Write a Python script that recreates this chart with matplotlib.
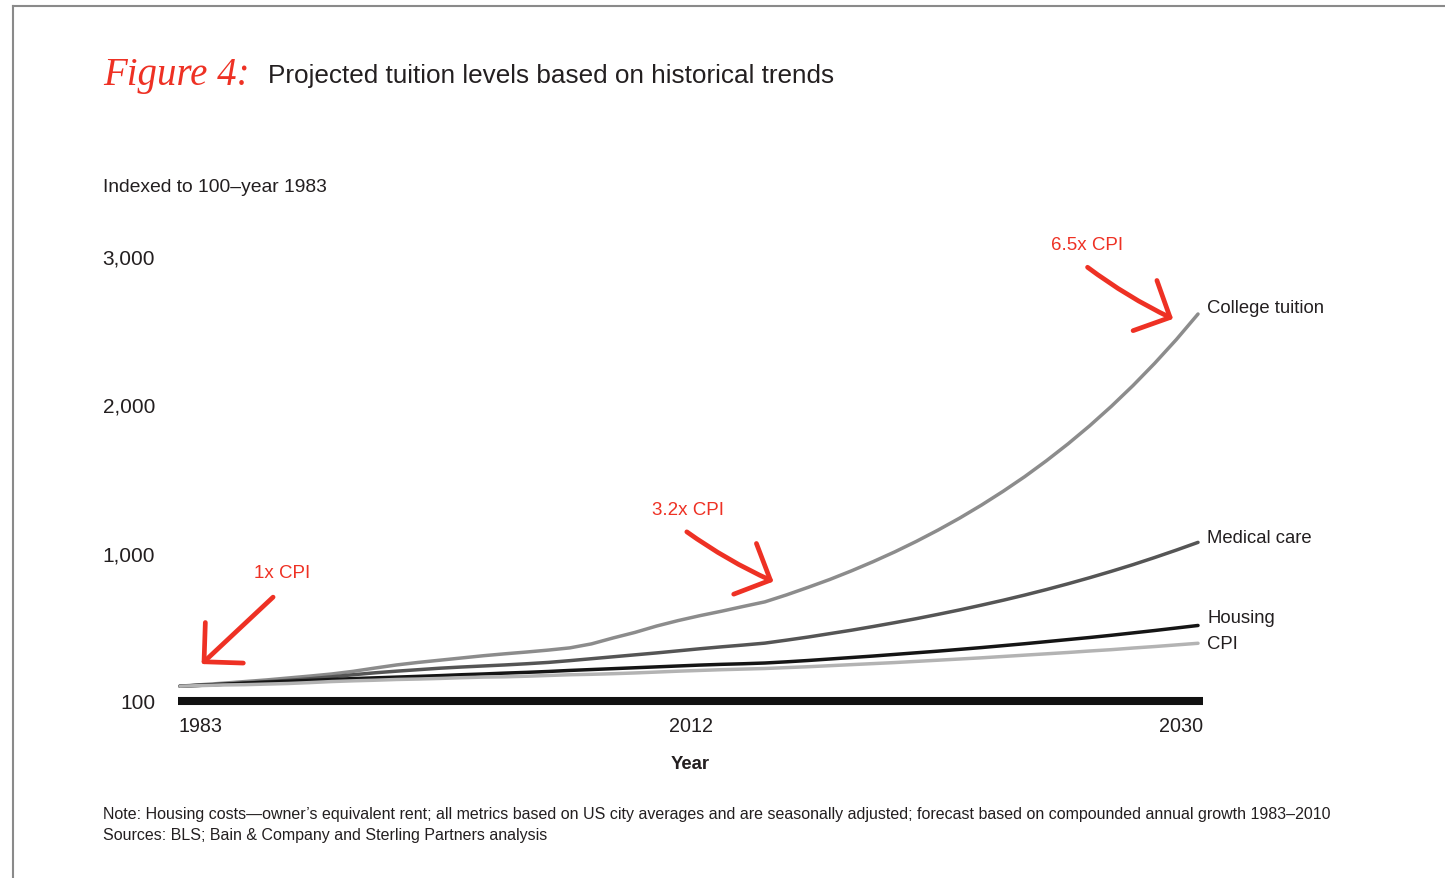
import matplotlib.pyplot as plt
from matplotlib.lines import Line2D
from matplotlib.patches import FancyArrowPatch

plt.rcParams['font.family'] = ['Liberation Sans', 'DejaVu Sans']

years = list(range(1983, 2031))

# index, 1983 = 100; 1983-2010 actual, 2011-2030 projected
tuition = [100, 110, 120, 131, 142, 155, 168, 182, 200, 222,
           243, 260, 275, 290, 305, 318, 330, 343, 358, 385,
           425, 462, 505, 542, 575, 605, 637, 668,
           715, 766, 819, 877, 939, 1005, 1076, 1152, 1233, 1320,
           1413, 1512, 1619, 1733, 1855, 1986, 2126, 2276, 2436, 2608]
medical = [100, 106, 113, 122, 130, 139, 150, 163, 177, 190,
           201, 211, 221, 229, 236, 243, 251, 260, 272, 285,
           298, 311, 324, 338, 352, 365, 377, 390,
           410, 431, 454, 477, 502, 528, 555, 584, 614, 646,
           679, 714, 751, 790, 831, 874, 919, 967, 1017, 1069]
housing = [100, 106, 113, 120, 127, 133, 139, 145, 151, 156,
           161, 166, 171, 177, 182, 188, 193, 199, 206, 212,
           218, 224, 230, 236, 242, 247, 251, 256,
           264, 273, 283, 293, 303, 314, 325, 336, 348, 360,
           373, 386, 400, 414, 428, 443, 459, 475, 492, 509]
cpi = [100, 104, 108, 110, 114, 118, 124, 131, 136, 140,
       145, 148, 152, 157, 161, 163, 167, 172, 177, 180,
       184, 189, 195, 201, 206, 211, 215, 219,
       225, 231, 238, 245, 252, 259, 267, 275, 283, 291,
       300, 309, 318, 327, 337, 346, 357, 367, 378, 389]

series_names = ['College tuition', 'Medical care', 'Housing', 'CPI']
series_colors = ['#8c8c8c', '#555555', '#151515', '#b3b3b3']
label_dy = [5, 3.5, 5.5, 0]  # points, vertical nudge of end labels

yticks = [0, 1000, 2000, 3000]
ytick_labels = ['100', '1,000', '2,000', '3,000']
xtick_labels = ['1983', '2012', '2030']

callouts = ['1x CPI', '3.2x CPI', '6.5x CPI']
callout_text_pos = [(1986.4, 869), (2004.8, 1293), (2023.2, 3077)]
callout_arrows = [((1987.3, 700), (1984.0, 249), 0.0),
                  ((2006.4, 1140), (2010.4, 805), 0.05),
                  ((2024.9, 2923), (2028.85, 2575), 0.05)]

RED = '#ee3124'
TXT = '#231f20'

fig = plt.figure(figsize=(14.45, 8.79), dpi=100)
ax = fig.add_axes([178 / 1445, 1 - 702 / 879, 1025 / 1445, (702 - 242) / 879])
ax.set_xlim(1982.91, 2030.23)
ax.set_ylim(0, 3100)
for s in ax.spines.values():
    s.set_visible(False)

data = [tuition, medical, housing, cpi]
for vals, name, col, dy in zip(data, series_names, series_colors, label_dy):
    ax.plot(years, vals, color=col, lw=2.5, solid_capstyle='round', clip_on=False)
    ax.annotate(name, xy=(years[-1], vals[-1]), xytext=(6.5, dy),
                textcoords='offset points', ha='left', va='center',
                fontsize=13.3, color=TXT)

ax.axhline(0, color='#111111', lw=5.8, clip_on=False, zorder=5,
           solid_capstyle='butt')

ax.set_yticks(yticks)
ax.set_yticklabels(ytick_labels, fontsize=15, color=TXT)
ax.set_xticks([])
ax.tick_params(axis='y', length=0, pad=16.5)

for xa, lab, ha in zip([0, 0.5, 1], xtick_labels, ['left', 'center', 'right']):
    ax.text(xa, -0.033, lab, transform=ax.transAxes, ha=ha, va='top',
            fontsize=14.2, color=TXT)
ax.text(0.5, -0.118, 'Year', transform=ax.transAxes, ha='center', va='top',
        fontsize=13.3, fontweight='bold', color=TXT)

# red hand-drawn style callouts
for txt, pos in zip(callouts, callout_text_pos):
    ax.text(pos[0], pos[1], txt, ha='left', va='center', fontsize=13.5, color=RED)
for start, tip, rad in callout_arrows:
    arr = FancyArrowPatch(posA=start, posB=tip, connectionstyle=f'arc3,rad={rad}',
                          arrowstyle='->,head_length=20,head_width=20',
                          color=RED, lw=3.4, capstyle='round', joinstyle='round',
                          shrinkA=0, shrinkB=0, clip_on=False)
    ax.add_patch(arr)

# titles and notes
fig.text(103 / 1445, 1 - 76 / 879, 'Figure 4:', family='Liberation Serif',
         style='italic', fontsize=28, color=RED, va='center', ha='left')
fig.text(268 / 1445, 1 - 76 / 879, 'Projected tuition levels based on historical trends',
         fontsize=18.8, color=TXT, va='center', ha='left')
fig.text(103 / 1445, 1 - 187 / 879, 'Indexed to 100\u2013year 1983',
         fontsize=13.9, color=TXT, va='center', ha='left')
fig.text(103 / 1445, 1 - 815 / 879,
         'Note: Housing costs\u2014owner\u2019s equivalent rent; all metrics based on US city '
         'averages and are seasonally adjusted; forecast based on compounded annual growth 1983\u20132010',
         fontsize=11.5, color=TXT, va='center', ha='left')
fig.text(103 / 1445, 1 - 836 / 879, 'Sources: BLS; Bain & Company and Sterling Partners analysis',
         fontsize=11.5, color=TXT, va='center', ha='left')

# page frame
fig.add_artist(Line2D([13 / 1445, 1], [1 - 7 / 879, 1 - 7 / 879],
                      transform=fig.transFigure, color='#8a8a8a', lw=1.5))
fig.add_artist(Line2D([13 / 1445, 13 / 1445], [0, 1 - 7 / 879],
                      transform=fig.transFigure, color='#8a8a8a', lw=1.5))

fig.savefig('out.png', dpi=100)
